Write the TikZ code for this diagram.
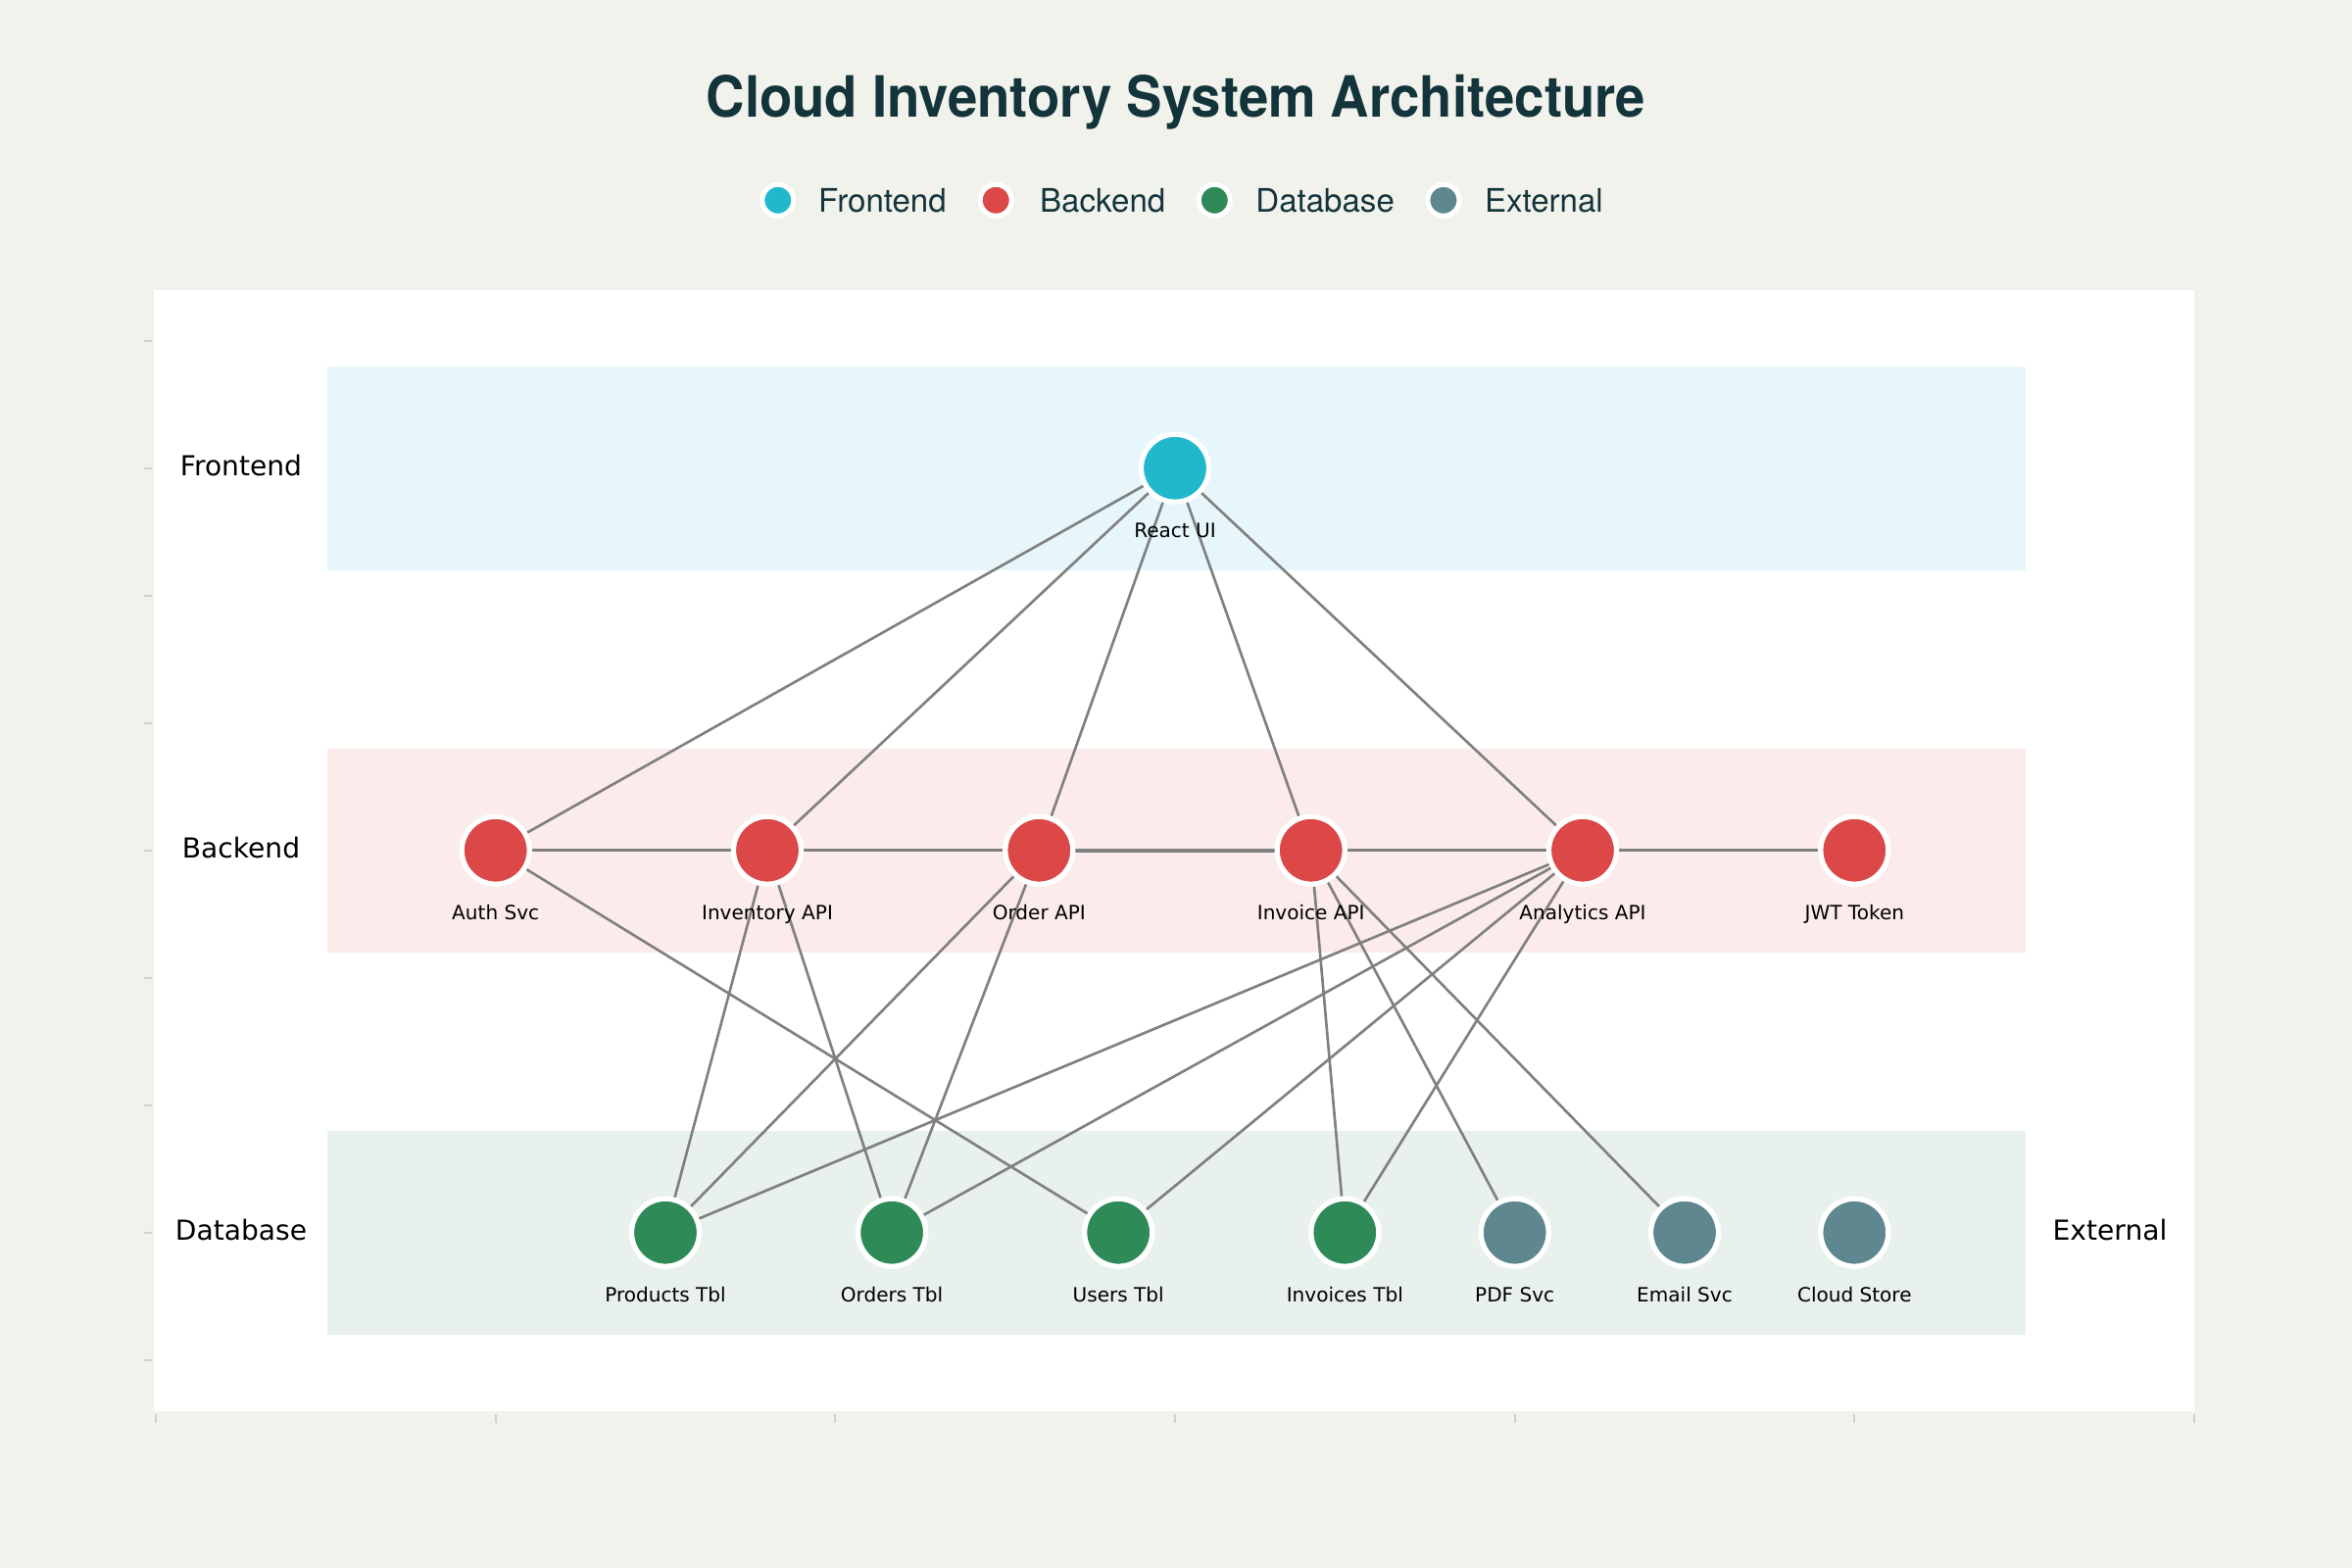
\documentclass[tikz,border=0pt]{standalone}
\usepackage{fontspec}
\setmainfont{DejaVu Sans}
\newfontfamily\herosfont{TeX Gyre Heros}
\newfontfamily\titlefont[FakeStretch=0.94]{TeX Gyre Heros}
\definecolor{bgC}{HTML}{F2F2EC}
\definecolor{titleC}{HTML}{13343B}
\definecolor{feC}{HTML}{21B8CE}
\definecolor{beC}{HTML}{DC4747}
\definecolor{dbC}{HTML}{2E8B57}
\definecolor{exC}{HTML}{5E8790}
\definecolor{feBand}{HTML}{E6F6FA}
\definecolor{beBand}{HTML}{FCEBEB}
\definecolor{dbBand}{HTML}{E8F1EC}
\definecolor{edgeC}{HTML}{808080}
\definecolor{tickC}{HTML}{D0D0D0}
\pgfdeclarelayer{bands}
\pgfdeclarelayer{edges}
\pgfsetlayers{bands,edges,main}
\tikzset{
  nd/.style={circle, draw=white, line width=1.5pt, minimum size=0.69cm, inner sep=0pt},
  fenode/.style={nd, fill=feC},
  benode/.style={nd, fill=beC},
  dbnode/.style={nd, fill=dbC},
  exnode/.style={nd, fill=exC},
  lgd/.style={circle, draw=white, line width=1.42pt, minimum size=0.32cm, inner sep=0pt},
  lgdtext/.style={font=\herosfont\fontsize{9.4}{11}\selectfont, text=titleC, anchor=base west, inner sep=0pt},
  lbl/.style={font=\fontsize{5.7}{6.5}\selectfont, anchor=base, inner sep=0pt},
  lane/.style={font=\fontsize{8}{9.5}\selectfont, anchor=base, inner sep=0pt},
  conn/.style={draw=edgeC, line width=0.75pt},
  tick/.style={draw=tickC, line width=0.5pt},
}
\begin{document}
\begin{tikzpicture}[x=0.01cm, y=-0.01cm]
\useasboundingbox (0,0) rectangle (2400,1600);
\begin{pgfonlayer}{bands}
  \fill[bgC] (0,0) rectangle (2400,1600);
  \fill[white] (157,296) rectangle (2239,1440);
  \fill[feBand] (334,373.7) rectangle (2067,581.7);
  \fill[beBand] (334,763.7) rectangle (2067,971.7);
  \fill[dbBand] (334,1153.7) rectangle (2067,1361.7);
  \foreach \yy in {347.7,477.7,607.7,737.7,867.7,997.7,1127.7,1257.7,1387.7}
    \draw[tick] (147,\yy) -- (155,\yy);
  \foreach \xx in {159,505.67,852.33,1199,1545.67,1892.33,2239}
    \draw[tick] (\xx,1443) -- (\xx,1452);
\end{pgfonlayer}

% title and legend
\node[font=\titlefont\bfseries\fontsize{16.5}{19}\selectfont, text=titleC, anchor=base, inner sep=0pt] (title) at (1200,120) {Cloud Inventory System Architecture};
\node[lgd, fill=feC] (lgFe) at (793.8,204.3) {};
\node[lgdtext] (lgFeT) at (834.5,216.7) {Frontend};
\node[lgd, fill=beC] (lgBe) at (1016.2,204.3) {};
\node[lgdtext] (lgBeT) at (1060.4,216.7) {Backend};
\node[lgd, fill=dbC] (lgDb) at (1239.3,204.3) {};
\node[lgdtext] (lgDbT) at (1280.7,216.7) {Database};
\node[lgd, fill=exC] (lgEx) at (1472.9,204.3) {};
\node[lgdtext] (lgExT) at (1514.3,216.7) {External};

% lane labels
\node[lane] (laneFe) at (246,485.7) {Frontend};
\node[lane] (laneBe) at (246,875.7) {Backend};
\node[lane] (laneDb) at (246,1265.7) {Database};
\node[lane] (laneEx) at (2153,1265.7) {External};

% nodes
\node[fenode] (react) at (1199,477.7) {};
\node[benode] (auth) at (505.7,867.7) {};
\node[benode] (inv) at (783,867.7) {};
\node[benode] (order) at (1060.3,867.7) {};
\node[benode] (invoice) at (1337.7,867.7) {};
\node[benode] (analytics) at (1615,867.7) {};
\node[benode] (jwt) at (1892.3,867.7) {};
\node[dbnode] (products) at (679,1257.7) {};
\node[dbnode] (orders) at (910.1,1257.7) {};
\node[dbnode] (users) at (1141.2,1257.7) {};
\node[dbnode] (invoices) at (1372.3,1257.7) {};
\node[exnode] (pdf) at (1545.7,1257.7) {};
\node[exnode] (email) at (1719,1257.7) {};
\node[exnode] (cloud) at (1892.3,1257.7) {};

% node labels
\node[lbl] (reactL) at (1199,548.2) {React UI};
\node[lbl] (authL) at (505.7,938.2) {Auth Svc};
\node[lbl] (invL) at (783,938.2) {Inventory API};
\node[lbl] (orderL) at (1060.3,938.2) {Order API};
\node[lbl] (invoiceL) at (1337.7,938.2) {Invoice API};
\node[lbl] (analyticsL) at (1615,938.2) {Analytics API};
\node[lbl] (jwtL) at (1892.3,938.2) {JWT Token};
\node[lbl] (productsL) at (679,1328.2) {Products Tbl};
\node[lbl] (ordersL) at (910.1,1328.2) {Orders Tbl};
\node[lbl] (usersL) at (1141.2,1328.2) {Users Tbl};
\node[lbl] (invoicesL) at (1372.3,1328.2) {Invoices Tbl};
\node[lbl] (pdfL) at (1545.7,1328.2) {PDF Svc};
\node[lbl] (emailL) at (1719,1328.2) {Email Svc};
\node[lbl] (cloudL) at (1892.3,1328.2) {Cloud Store};

% connectors
\begin{pgfonlayer}{edges}
  \draw[conn] (react.center) -- (auth.center);
  \draw[conn] (react.center) -- (inv.center);
  \draw[conn] (react.center) -- (order.center);
  \draw[conn] (react.center) -- (invoice.center);
  \draw[conn] (react.center) -- (analytics.center);
  \draw[conn] (auth.center) -- (inv.center);
  \draw[conn] (inv.center) -- (order.center);
  \draw[conn, line width=1.1pt] (order.center) -- (invoice.center);
  \draw[conn] (invoice.center) -- (analytics.center);
  \draw[conn] (analytics.center) -- (jwt.center);
  \draw[conn] (auth.center) -- (users.center);
  \draw[conn] (inv.center) -- (products.center);
  \draw[conn] (inv.center) -- (orders.center);
  \draw[conn] (order.center) -- (products.center);
  \draw[conn] (order.center) -- (orders.center);
  \draw[conn] (invoice.center) -- (invoices.center);
  \draw[conn] (invoice.center) -- (pdf.center);
  \draw[conn] (invoice.center) -- (email.center);
  \draw[conn] (analytics.center) -- (products.center);
  \draw[conn] (analytics.center) -- (orders.center);
  \draw[conn] (analytics.center) -- (users.center);
  \draw[conn] (analytics.center) -- (invoices.center);
\end{pgfonlayer}
\end{tikzpicture}
\end{document}
